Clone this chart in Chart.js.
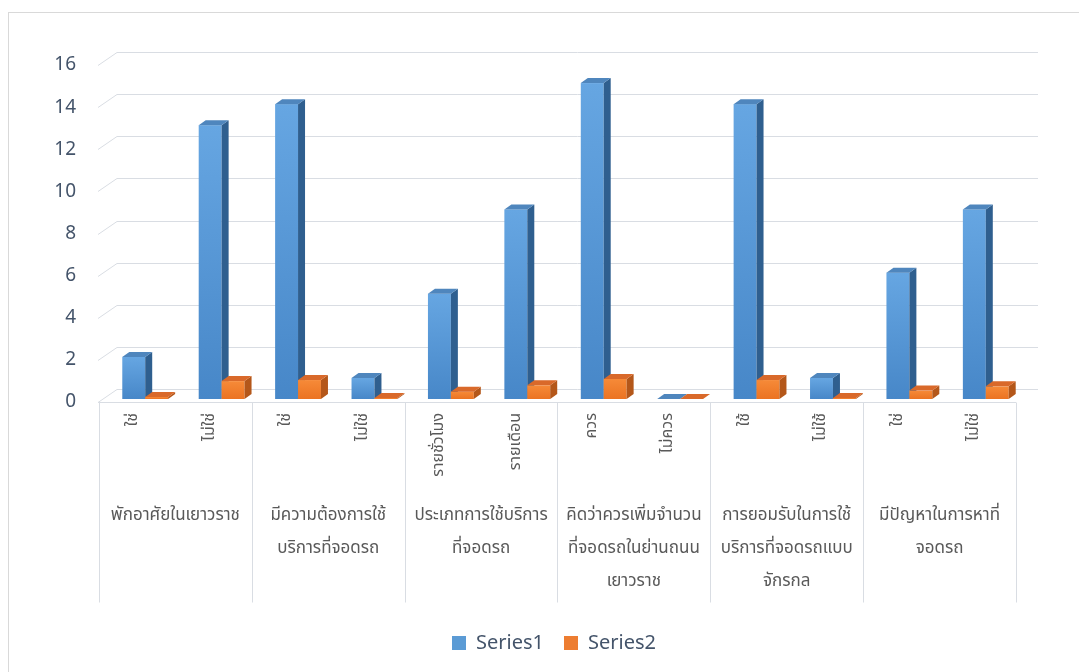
<!DOCTYPE html>
<html>
<head>
<meta charset="utf-8">
<script src="https://cdn.jsdelivr.net/npm/chart.js@4.4.1/dist/chart.umd.min.js"></script>
<style>
  html, body { margin: 0; padding: 0; background: #fff; }
</style>
</head>
<body>
<canvas id="chart" width="1079" height="672"></canvas>
<script>
// ข้อมูลกราฟ
const categories = ['ใช่', 'ไม่ใช่', 'ใช่', 'ไม่ใช่', 'รายชั่วโมง', 'รายเดือน', 'ควร', 'ไม่ควร', 'ใช้', 'ไม่ใช้', 'ใช่', 'ไม่ใช่'];
const series1 = [2, 13, 14, 1, 5, 9, 15, 0, 14, 1, 6, 9];
const series2 = [0.1, 0.85, 0.9, 0.05, 0.35, 0.65, 0.95, 0, 0.9, 0.05, 0.4, 0.6];
const yTicks = [0, 2, 4, 6, 8, 10, 12, 14, 16];
const groupLabels = [
    ['พักอาศัยในเยาวราช'],
    ['มีความต้องการใช้', 'บริการที่จอดรถ'],
    ['ประเภทการใช้บริการ', 'ที่จอดรถ'],
    ['คิดว่าควรเพิ่มจำนวน', 'ที่จอดรถในย่านถนน', 'เยาวราช'],
    ['การยอมรับในการใช้', 'บริการที่จอดรถแบบ', 'จักรกล'],
    ['มีปัญหาในการหาที่', 'จอดรถ']
];
const groupSizes = [2, 2, 2, 2, 2, 2];

const THAI_FONT = "'Noto Sans Thai', Tahoma, 'Noto Sans', sans-serif";
const TEXT_GREY = '#595959';
const TEXT_SLATE = '#44546a';
const LINE_GREY = '#d9dde3';

// สีของแต่ละหน้าแท่ง (หน้า, ด้านข้าง, ด้านบน)
const faces = [
    { top: '#66a6e2', bottom: '#4787c8', side: '#2f5f8f', cap: '#4f86bd' },
    { top: '#f68a38', bottom: '#eb7322', side: '#b4571a', cap: '#d9692a' }
];
const BAR_SHIFT = 8;
const DEPTH = { x: 7, y: 5 };
const LEGEND_SHIFT = 46;

// ปลั๊กอินวาดผนัง เส้นกริด และแท่งสามมิติ
const chart3d = {
    id: 'chart3d',
    afterLayout(chart) {
        // เลื่อนคำอธิบายสัญลักษณ์ไปทางขวาให้ตรงกับต้นฉบับ
        if (chart.legend) {
            chart.legend.left += LEGEND_SHIFT;
            chart.legend.right += LEGEND_SHIFT;
        }
    },
    beforeDatasetsDraw(chart) {
        const { ctx, chartArea: a, scales: { y } } = chart;
        ctx.save();
        ctx.strokeStyle = LINE_GREY;
        ctx.lineWidth = 1;
        yTicks.forEach(v => {
            const py = y.getPixelForValue(v);
            const front = Math.round(py + 3) + 0.5;
            const back = Math.round(py - 10) + 0.5;
            ctx.beginPath();
            ctx.moveTo(a.left - 1, front);
            ctx.lineTo(a.left + 18, back);
            ctx.lineTo(a.right + 22, back);
            ctx.stroke();
        });
        ctx.restore();
    },
    beforeDatasetDraw() {
        return false;
    },
    afterDatasetsDraw(chart) {
        const { ctx } = chart;
        const metas = [chart.getDatasetMeta(0), chart.getDatasetMeta(1)];
        ctx.save();
        for (let i = 0; i < categories.length; i++) {
            metas.forEach((meta, d) => {
                const bar = meta.data[i];
                const { x, y, base, width } = bar.getProps(['x', 'y', 'base', 'width'], true);
                const left = x - width / 2 + BAR_SHIFT;
                const right = x + width / 2 + BAR_SHIFT;
                const c = faces[d];
                // หน้าแท่ง
                if (base - y > 0.5) {
                    const g = ctx.createLinearGradient(0, y, 0, base);
                    g.addColorStop(0, c.top);
                    g.addColorStop(1, c.bottom);
                    ctx.fillStyle = g;
                    ctx.fillRect(left, y, right - left, base - y);
                }
                // ด้านข้าง
                ctx.fillStyle = c.side;
                ctx.beginPath();
                ctx.moveTo(right, y);
                ctx.lineTo(right + DEPTH.x, y - DEPTH.y);
                ctx.lineTo(right + DEPTH.x, base - DEPTH.y);
                ctx.lineTo(right, base);
                ctx.closePath();
                ctx.fill();
                // ด้านบน
                ctx.fillStyle = c.cap;
                ctx.beginPath();
                ctx.moveTo(left, y);
                ctx.lineTo(left + DEPTH.x, y - DEPTH.y);
                ctx.lineTo(right + DEPTH.x, y - DEPTH.y);
                ctx.lineTo(right, y);
                ctx.closePath();
                ctx.fill();
            });
        }
        ctx.restore();
    },
    afterDraw(chart) {
        const { ctx, chartArea: a, scales: { x, y } } = chart;
        const band = x.getPixelForValue(1) - x.getPixelForValue(0);
        const floorY = Math.round(y.getPixelForValue(0) + 3) + 0.5;
        ctx.save();
        ctx.strokeStyle = LINE_GREY;
        ctx.lineWidth = 1;
        // ขอบพื้นด้านหน้า
        ctx.beginPath();
        ctx.moveTo(a.left - 1, floorY);
        ctx.lineTo(a.right, floorY);
        ctx.stroke();
        // เส้นแบ่งกลุ่มและชื่อกลุ่ม
        ctx.font = '17px ' + THAI_FONT;
        ctx.fillStyle = TEXT_GREY;
        ctx.textAlign = 'center';
        ctx.textBaseline = 'middle';
        let idx = 0;
        const edges = [];
        groupSizes.forEach((n, g) => {
            const l = x.getPixelForValue(idx) - band / 2;
            const r = x.getPixelForValue(idx + n - 1) + band / 2;
            edges.push(l);
            if (g === groupSizes.length - 1) edges.push(r);
            const cx = (l + r) / 2;
            groupLabels[g].forEach((line, k) => {
                ctx.fillText(line, cx, a.bottom + 118 + k * 33);
            });
            idx += n;
        });
        edges.forEach(e => {
            const ex = Math.round(e) + 0.5;
            ctx.beginPath();
            ctx.moveTo(ex, floorY);
            ctx.lineTo(ex, floorY + 200);
            ctx.stroke();
        });
        // กรอบนอกของแผนภูมิ
        ctx.strokeStyle = '#d9d9d9';
        ctx.strokeRect(8.5, 12.5, 1090, 680);
        ctx.restore();
    }
};

new Chart(document.getElementById('chart'), {
    type: 'bar',
    data: {
        labels: categories,
        datasets: [
            { label: 'Series1', data: series1, backgroundColor: '#5b9bd5' },
            { label: 'Series2', data: series2, backgroundColor: '#ed7d31' }
        ]
    },
    options: {
        responsive: false,
        devicePixelRatio: 1,
        animation: false,
        layout: { padding: { top: 62, right: 63, bottom: 9, left: 0 } },
        datasets: { bar: { categoryPercentage: 0.6, barPercentage: 1 } },
        plugins: {
            legend: {
                position: 'bottom',
                labels: {
                    boxWidth: 14,
                    boxHeight: 14,
                    padding: 20,
                    color: TEXT_SLATE,
                    font: { family: "'Noto Sans', sans-serif", size: 20 }
                }
            },
            tooltip: { enabled: false }
        },
        scales: {
            x: {
                grid: { display: false, drawTicks: false },
                border: { display: false },
                afterFit: (scale) => { scale.height = 214; },
                ticks: {
                    autoSkip: false,
                    minRotation: 90,
                    maxRotation: 90,
                    padding: 14,
                    labelOffset: -3,
                    color: TEXT_GREY,
                    font: { family: THAI_FONT, size: 16 }
                }
            },
            y: {
                min: 0,
                max: 16,
                grid: { display: false, drawTicks: false },
                border: { display: false },
                afterFit: (scale) => { scale.width = 99; },
                ticks: {
                    stepSize: 2,
                    padding: 23,
                    labelOffset: 3,
                    color: TEXT_SLATE,
                    font: { family: "'Noto Sans', sans-serif", size: 19 }
                }
            }
        }
    },
    plugins: [chart3d]
});
</script>
</body>
</html>
